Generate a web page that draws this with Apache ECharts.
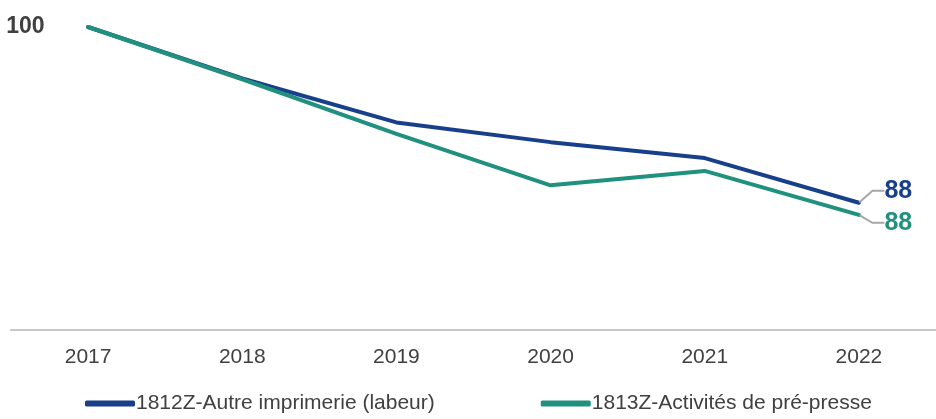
<!DOCTYPE html>
<html><head><meta charset="utf-8">
<script src="https://cdn.jsdelivr.net/npm/echarts@6/dist/echarts.min.js"></script>
<style>html,body{margin:0;padding:0;background:#fff}#c{width:936px;height:419px}</style>
</head><body><div id="c"></div>
<script>
const years = ['2017', '2018', '2019', '2020', '2021', '2022'];
const seriesNames = ['1812Z-Autre imprimerie (labeur)', '1813Z-Activités de pré-presse'];
const labeur = [100, 96.6, 93.7, 92.4, 91.35, 88.4];
const prepresse = [100, 96.55, 92.95, 89.55, 90.5, 87.6];
const colors = ['#173F8A', '#20907F'];

const last = years.length - 1;
function build(values, color, showFirst, dy) {
  return {
    name: '',
    type: 'line',
    data: values.map((v, i) => {
      if (i === last) {
        return { value: v, label: { show: true, position: 'right', distance: 14, color: color,
          padding: [0, 0, 0, 11],
          fontSize: 25, fontWeight: 'bold', fontFamily: 'Liberation Sans, Arial, sans-serif',
          formatter: p => Math.round(p.value) } };
      }
      if (i === 0 && showFirst) {
        return { value: v, labelLine: { show: false },
          label: { show: true, position: 'left', distance: 43, color: '#404040',
          padding: [0, 0, 8, 0],
          fontSize: 23, fontWeight: 'bold', fontFamily: 'Liberation Sans, Arial, sans-serif',
          formatter: p => Math.round(p.value) } };
      }
      return v;
    }),
    symbol: 'circle',
    symbolSize: 1,
    showSymbol: true,
    lineStyle: { color: color, width: 4, cap: 'round', join: 'round' },
    itemStyle: { color: color },
    labelLayout: p => (p.dataIndex === last ? { dy: dy } : {}),
    labelLine: { show: true, length2: 12, lineStyle: { color: '#a6a6a6', width: 2 } },
    emphasis: { disabled: true },
    animation: false
  };
}

const s1 = build(labeur, colors[0], true, -12);
s1.name = seriesNames[0];
const s2 = build(prepresse, colors[1], false, 8);
s2.name = seriesNames[1];

const chart = echarts.init(document.getElementById('c'));
chart.setOption({
  animation: false,
  grid: { left: 11, top: 27, width: 932, height: 303 },
  xAxis: {
    type: 'category', data: years, boundaryGap: true,
    axisLine: { lineStyle: { color: '#c8c8c8', width: 2 } },
    axisTick: { show: false },
    axisLabel: { color: '#404040', fontSize: 21, margin: 17, fontFamily: 'Liberation Sans, Arial, sans-serif' }
  },
  yAxis: { type: 'value', min: 80, max: 100, show: false, splitLine: { show: false } },
  legend: {
    bottom: 0, left: 80, itemGap: 106, itemWidth: 50, itemHeight: 6, icon: 'roundRect',
    data: seriesNames,
    textStyle: { color: '#404040', fontSize: 21, fontFamily: 'Liberation Sans, Arial, sans-serif', padding: [0, 0, 0, -4] }
  },
  series: [s1, s2]
});
</script></body></html>
